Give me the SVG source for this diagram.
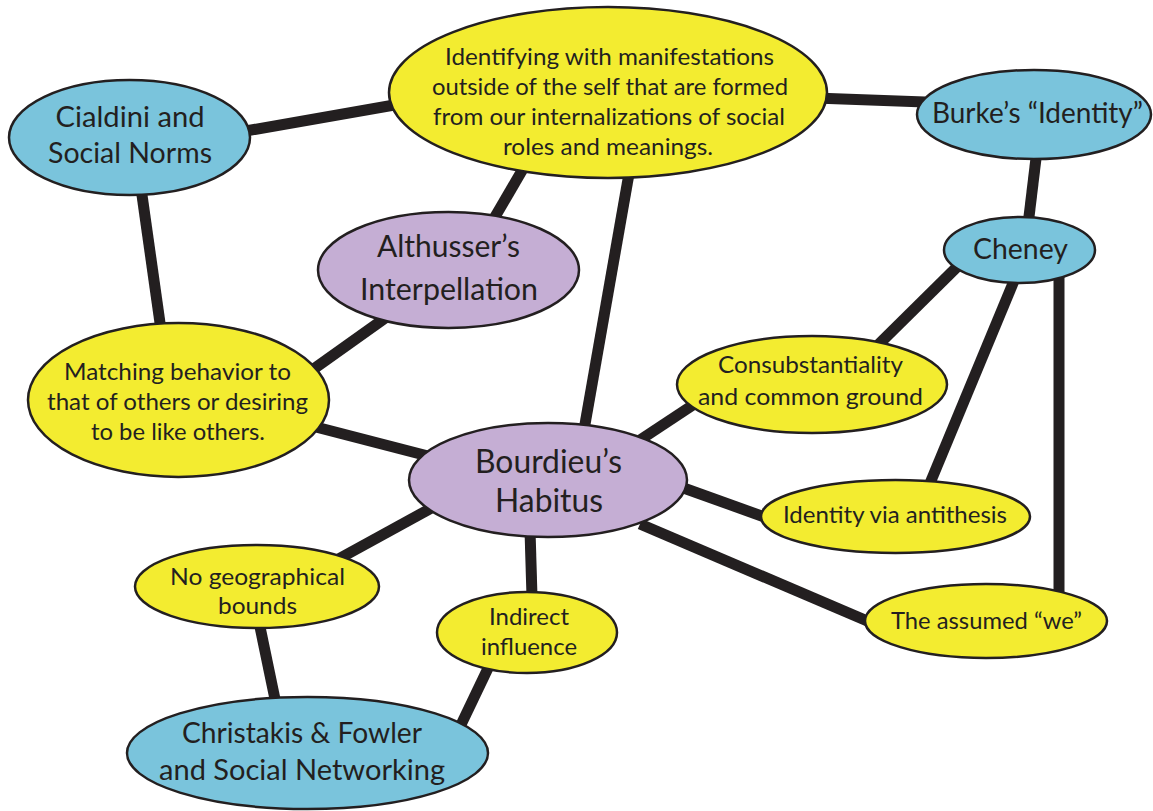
<svg xmlns="http://www.w3.org/2000/svg" width="1153" height="811" viewBox="0 0 1153 811">
  <style>
    .edge { stroke: #231f20; stroke-width: 11; fill: none; }
    .node ellipse { stroke: #231f20; stroke-width: 2.5; }
    .blue { fill: #7ac4dc; }
    .yellow { fill: #f3ec30; }
    .purple { fill: #c5aed4; }
    text { font-family: Lato, "Open Sans", sans-serif; fill: #231f20; text-anchor: middle; }
    .s { font-size: 23.5px; }
    .m { font-size: 28px; }
    .l { font-size: 30px; }
    .xl { font-size: 32px; }
  </style>
  <rect width="1153" height="811" fill="#ffffff"/>

  <g id="connectors">
    <line class="edge" x1="240" y1="132" x2="400" y2="104"/>
    <line class="edge" x1="815" y1="98" x2="925" y2="102"/>
    <line class="edge" x1="1037" y1="150" x2="1028" y2="225"/>
    <line class="edge" x1="141" y1="188" x2="161" y2="330"/>
    <line class="edge" x1="527" y1="162" x2="492" y2="222"/>
    <line class="edge" x1="630" y1="168" x2="584" y2="430"/>
    <line class="edge" x1="388" y1="316" x2="308" y2="373"/>
    <line class="edge" x1="312" y1="426" x2="428" y2="456"/>
    <line class="edge" x1="640" y1="440" x2="702" y2="399"/>
    <line class="edge" x1="678" y1="486" x2="770" y2="519"/>
    <line class="edge" x1="640" y1="524" x2="872" y2="623"/>
    <line class="edge" x1="437" y1="505" x2="333" y2="562"/>
    <line class="edge" x1="530" y1="530" x2="532" y2="597"/>
    <line class="edge" x1="259" y1="622" x2="276" y2="704"/>
    <line class="edge" x1="491" y1="662" x2="458" y2="731"/>
    <line class="edge" x1="960" y1="264" x2="876" y2="347"/>
    <line class="edge" x1="1016" y1="276" x2="928" y2="488"/>
    <line class="edge" x1="1059" y1="270" x2="1059" y2="600"/>
  </g>

  <g id="cialdini" class="node">
    <ellipse class="blue" cx="129.5" cy="137.5" rx="120.5" ry="57.5"/>
    <text class="m" x="130" y="127" textLength="149" lengthAdjust="spacingAndGlyphs">Cialdini and</text>
    <text class="m" x="130" y="163" textLength="164" lengthAdjust="spacingAndGlyphs">Social Norms</text>
  </g>

  <g id="identifying" class="node">
    <ellipse class="yellow" cx="608" cy="92.5" rx="219" ry="85.5"/>
    <text class="s" x="609.5" y="65" textLength="329" lengthAdjust="spacingAndGlyphs">Identifying with manifestations</text>
    <text class="s" x="610" y="95" textLength="356" lengthAdjust="spacingAndGlyphs">outside of the self that are formed</text>
    <text class="s" x="609" y="125" textLength="352" lengthAdjust="spacingAndGlyphs">from our internalizations of social</text>
    <text class="s" x="608" y="155" textLength="210" lengthAdjust="spacingAndGlyphs">roles and meanings.</text>
  </g>

  <g id="burke" class="node">
    <ellipse class="blue" cx="1034" cy="114.5" rx="117" ry="44.5"/>
    <text class="m" x="1037.5" y="123" textLength="211" lengthAdjust="spacingAndGlyphs">Burke’s “Identity”</text>
  </g>

  <g id="cheney" class="node">
    <ellipse class="blue" cx="1019.5" cy="250" rx="75.5" ry="33"/>
    <text class="m" x="1020.5" y="259" textLength="95" lengthAdjust="spacingAndGlyphs">Cheney</text>
  </g>

  <g id="althusser" class="node">
    <ellipse class="purple" cx="448.5" cy="270" rx="130.5" ry="58"/>
    <text class="l" x="448.5" y="257" textLength="143" lengthAdjust="spacingAndGlyphs">Althusser’s</text>
    <text class="l" x="449" y="300" textLength="178" lengthAdjust="spacingAndGlyphs">Interpellation</text>
  </g>

  <g id="matching" class="node">
    <ellipse class="yellow" cx="178.5" cy="400" rx="150.5" ry="77"/>
    <text class="s" x="177.5" y="380" textLength="227" lengthAdjust="spacingAndGlyphs">Matching behavior to</text>
    <text class="s" x="177.5" y="410" textLength="261" lengthAdjust="spacingAndGlyphs">that of others or desiring</text>
    <text class="s" x="178" y="440" textLength="174" lengthAdjust="spacingAndGlyphs">to be like others.</text>
  </g>

  <g id="bourdieu" class="node">
    <ellipse class="purple" cx="548" cy="480" rx="139" ry="57"/>
    <text class="xl" x="548.5" y="473" textLength="147" lengthAdjust="spacingAndGlyphs">Bourdieu’s</text>
    <text class="xl" x="549" y="512" textLength="108" lengthAdjust="spacingAndGlyphs">Habitus</text>
  </g>

  <g id="consubstantiality" class="node">
    <ellipse class="yellow" cx="812" cy="384.5" rx="135" ry="48.5"/>
    <text class="s" x="810.5" y="373" textLength="185" lengthAdjust="spacingAndGlyphs">Consubstantiality</text>
    <text class="s" x="810.5" y="405" textLength="225" lengthAdjust="spacingAndGlyphs">and common ground</text>
  </g>

  <g id="antithesis" class="node">
    <ellipse class="yellow" cx="895.5" cy="516.5" rx="134.5" ry="36.5"/>
    <text class="s" x="895" y="523" textLength="224" lengthAdjust="spacingAndGlyphs">Identity via antithesis</text>
  </g>

  <g id="assumed-we" class="node">
    <ellipse class="yellow" cx="986" cy="621" rx="121" ry="37"/>
    <text class="s" x="986.5" y="629" textLength="191" lengthAdjust="spacingAndGlyphs">The assumed “we”</text>
  </g>

  <g id="geographical" class="node">
    <ellipse class="yellow" cx="257" cy="586.5" rx="122" ry="41.5"/>
    <text class="s" x="257.5" y="585" textLength="175" lengthAdjust="spacingAndGlyphs">No geographical</text>
    <text class="s" x="257.5" y="614" textLength="79" lengthAdjust="spacingAndGlyphs">bounds</text>
  </g>

  <g id="indirect" class="node">
    <ellipse class="yellow" cx="527" cy="632.5" rx="90" ry="40.5"/>
    <text class="s" x="529" y="625" textLength="80" lengthAdjust="spacingAndGlyphs">Indirect</text>
    <text class="s" x="529" y="655" textLength="96" lengthAdjust="spacingAndGlyphs">influence</text>
  </g>

  <g id="christakis" class="node">
    <ellipse class="blue" cx="307.5" cy="753" rx="180.5" ry="56"/>
    <text class="m" x="302" y="743" textLength="240" lengthAdjust="spacingAndGlyphs">Christakis &amp; Fowler</text>
    <text class="m" x="302" y="780" textLength="286" lengthAdjust="spacingAndGlyphs">and Social Networking</text>
  </g>
</svg>
